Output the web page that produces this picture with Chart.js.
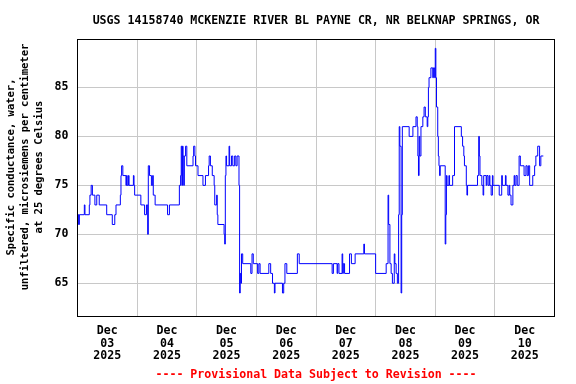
<!DOCTYPE html>
<html><head><meta charset="utf-8">
<script src="https://cdn.jsdelivr.net/npm/chart.js@4"></script>
<style>html,body{margin:0;padding:0;background:#fff}canvas{display:block}</style>
</head><body>
<canvas id="c" width="576" height="384"></canvas>
<script>
const titleText = 'USGS 14158740 MCKENZIE RIVER BL PAYNE CR, NR BELKNAP SPRINGS, OR';
const yTitle = ['Specific conductance, water,', 'unfiltered, microsiemens per centimeter', 'at 25 degrees Celsius'];
const footerText = '---- Provisional Data Subject to Revision ----';
const monthLabel = 'Dec';
const yearLabel = '2025';
const dayLabels = ['03','04','05','06','07','08','09','10'];
const yTicks = [65, 70, 75, 80, 85];
// hours since Dec 03 2025 00:00, value takes effect at that time
const hours = [0,0.25,0.5,0.75,2.75,3,4.75,5,5.5,6,7,7.75,8.75,11.75,14,15,15.5,17.25,17.5,17.75,18.25,19.5,19.75,20,20.5,20.75,22.5,22.75,23,25.5,27,27.75,28.25,28.5,29,29.75,30.25,30.5,31.25,36.25,37,41,41.5,41.75,42,42.25,42.5,42.75,43,43.5,44,46.5,46.75,47.25,47.5,48.5,50.5,51.5,52.75,53,53.5,54.25,55,55.25,56,56.25,56.5,59,59.25,59.5,59.75,60,61,61.25,62,62.5,63.25,63.75,64.25,65,65.25,65.5,65.75,66,66.5,69.75,70.25,70.75,72.5,73,73.5,77,77.75,78.5,79.25,79.5,82.5,83,83.5,84.25,88.5,89.25,102.5,103,104.5,104.75,105.25,106.5,106.75,107,107.5,109.5,110.25,111.75,115.25,115.5,120,124.25,125,125.25,125.75,126.25,126.75,127.5,127.75,128.25,128.75,129.25,129.5,129.75,130.25,130.5,130.75,133.5,135,136.25,136.75,137,137.25,137.5,137.75,138.25,139,139.5,140,140.75,141,141.25,141.5,142.25,143,143.25,143.75,144,144.25,144.5,145,145.25,145.5,145.75,146,148,148.25,148.5,148.75,149.5,149.75,151,151.75,154.5,155,155.5,155.75,156.5,156.75,157,161,161.5,161.75,162,162.75,163.25,163.5,164.5,164.75,165.25,165.75,166,166.5,167,167.25,169.75,170.75,171,172.25,172.5,173.25,173.75,174,174.5,175.25,175.75,176,176.5,177,177.75,178.25,179.75,180.5,181,181.5,182,183.25,184,184.5,185.25,186,186.5,187.5];
const values = [71,72,71,72,73,72,73,74,75,74,73,74,73,72,71,72,73,74,76,77,76,75,76,75,76,75,76,75,74,73,72,73,70,77,76,75,76,74,73,72,73,75,76,79,75,79,78,75,78,79,77,78,79,78,77,76,75,76,77,78,77,76,75,73,74,72,71,70,69,76,78,77,79,77,78,77,78,77,78,75,64,66,65,68,67,66,68,67,66,67,66,67,66,65,64,65,64,65,67,66,68,67,66,67,66,67,66,68,66,67,66,68,67,68,69,68,66,67,74,71,67,66,65,68,67,66,65,72,81,79,64,72,81,80,81,82,81,78,76,80,78,81,82,83,82,81,82,85,86,87,86,87,86,89,86,83,80,78,77,76,77,69,72,76,75,76,75,76,81,80,79,78,77,75,74,75,76,80,78,76,75,74,76,75,76,75,76,75,74,76,75,74,76,75,76,75,74,75,74,73,75,76,75,76,75,78,77,76,77,76,77,75,76,77,78,79,77,78,78];

const FAMILY = '"DejaVu Sans Mono", "Liberation Mono", monospace';
const mkFont = (size, lh) => ({ family: FAMILY, size: size, weight: 'bold', lineHeight: lh });

const frame = {
  id: 'frame',
  afterLayout(chart) {
    const a = chart.chartArea;
    if (chart.titleBlock) {
      chart.titleBlock.left = a.left;
      chart.titleBlock.right = a.right;
      chart.titleBlock.width = a.right - a.left;
    }
  },
  afterDatasetsDraw(chart) {
    const a = chart.chartArea, ctx = chart.ctx;
    ctx.save();
    ctx.strokeStyle = '#000';
    ctx.lineWidth = 1;
    ctx.strokeRect(Math.round(a.left - 0.5) + 0.5, Math.round(a.top - 0.5) + 0.5,
      Math.round(a.right - a.left), Math.round(a.bottom - a.top));
    ctx.restore();
  },
  afterDraw(chart) {
    // rotated three-line y-axis title
    const ctx = chart.ctx;
    const cy = 167;
    const xs = [11, 25.3, 39.6];
    ctx.save();
    ctx.fillStyle = '#000';
    ctx.font = 'bold 10.5px ' + FAMILY;
    ctx.textAlign = 'center';
    ctx.textBaseline = 'middle';
    yTitle.forEach((line, i) => {
      ctx.save();
      ctx.translate(xs[i], cy);
      ctx.rotate(-Math.PI / 2);
      ctx.fillText(line, 0, 0);
      ctx.restore();
    });
    ctx.restore();
  }
};

new Chart(document.getElementById('c'), {
  type: 'line',
  data: {
    datasets: [{
      data: hours.map((h, i) => ({ x: h, y: values[i] })),
      borderColor: '#0000ff',
      borderWidth: 1,
      pointRadius: 0,
      stepped: 'before',
      fill: false
    }]
  },
  options: {
    responsive: false,
    devicePixelRatio: 1,
    animation: false,
    layout: { padding: { left: 0, right: 21.5, top: 0, bottom: 0 } },
    plugins: {
      legend: { display: false },
      tooltip: { enabled: false },
      title: {
        display: true, text: titleText, color: '#000',
        font: mkFont(11.6, 1.2), padding: { top: 14.5, bottom: 11.1 }
      }
    },
    scales: {
      x: {
        type: 'linear', min: 0, max: 192,
        afterBuildTicks: s => { const t = []; for (let v = 0; v <= 192; v += 12) t.push({ value: v }); s.ticks = t; },
        afterFit: s => { s.height = 67.5; },
        grid: { color: c => (c.tick && c.tick.value % 24 === 0) ? '#c8c8c8' : 'rgba(0,0,0,0)', drawTicks: false, lineWidth: 1 },
        border: { display: false },
        ticks: {
          autoSkip: false, maxRotation: 0, minRotation: 0, padding: 8, color: '#000',
          font: mkFont(11.6, 1.1),
          callback: v => (v % 24 === 12) ? [monthLabel, dayLabels[(v - 12) / 24], yearLabel] : ''
        },
        title: { display: true, text: footerText, color: '#ff0000', font: mkFont(11.6, 1.2), padding: { top: 0, bottom: 2 } }
      },
      y: {
        min: 61.6, max: 89.9,
        afterBuildTicks: s => { s.ticks = yTicks.map(v => ({ value: v })); },
        afterFit: s => { s.width = 77.5; },
        grid: { color: '#c8c8c8', drawTicks: false, lineWidth: 1 },
        border: { display: false },
        ticks: { padding: 9, color: '#000', font: mkFont(11.6, 1.2) }
      }
    }
  },
  plugins: [frame]
});
</script>
</body></html>
